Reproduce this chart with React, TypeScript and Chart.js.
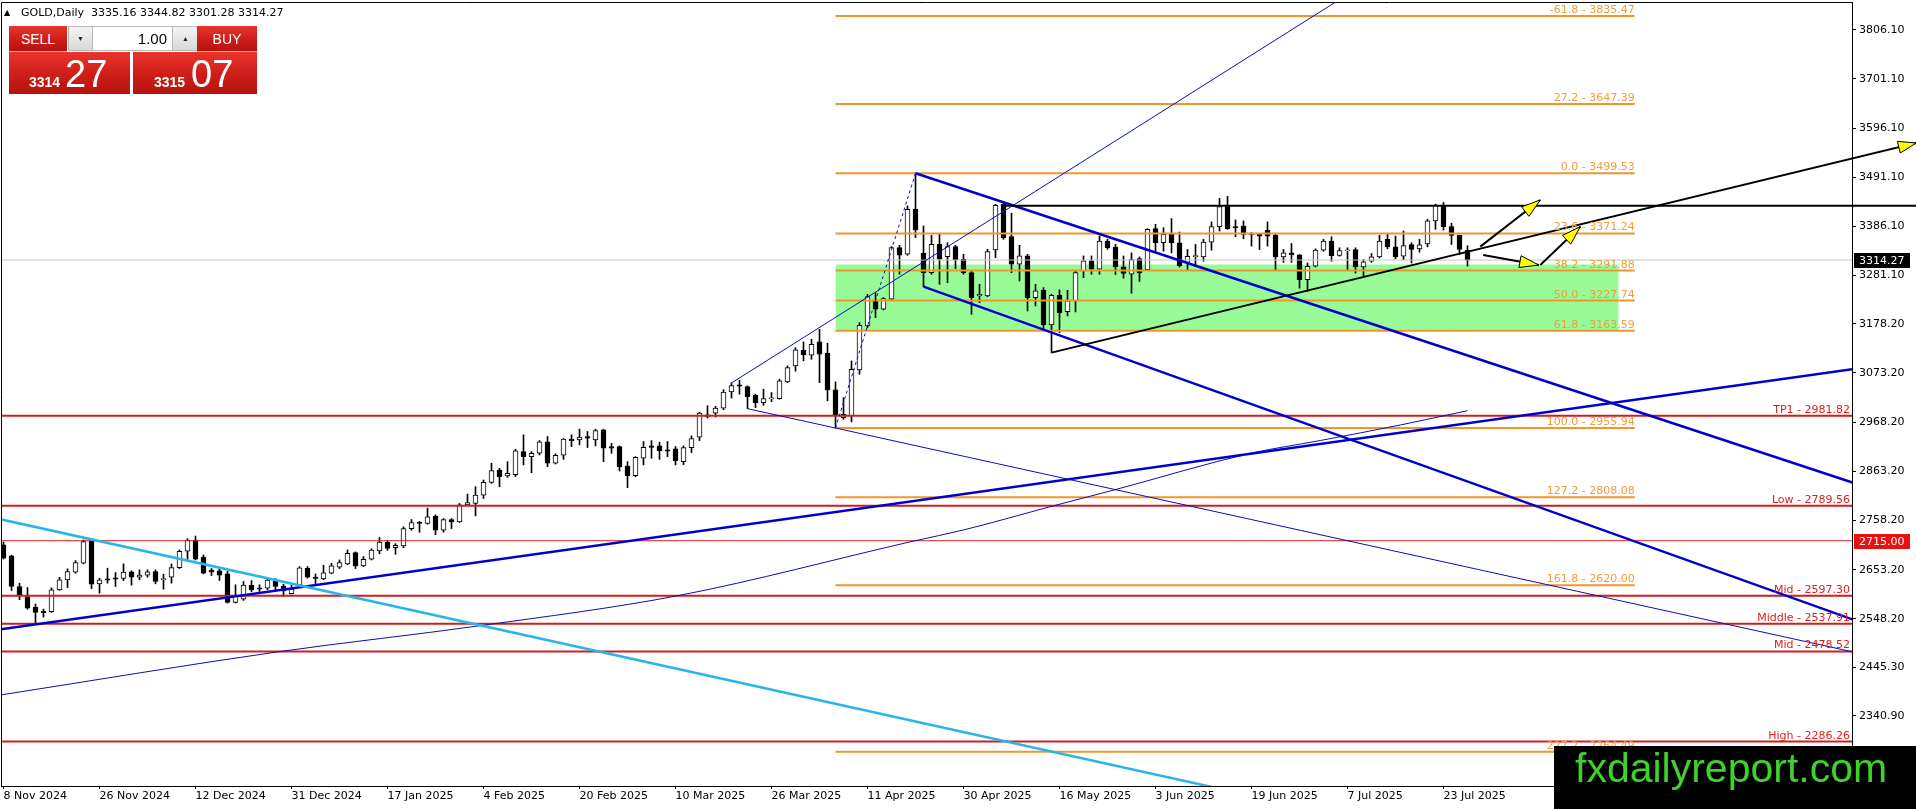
import React, { useEffect, useRef } from 'react';
import { Chart, registerables } from 'chart.js';

Chart.register(...registerables);

// ---------- data ----------
const symbolTitle = 'GOLD,Daily';
const dateLabels = ['8 Nov 2024', '26 Nov 2024', '12 Dec 2024', '31 Dec 2024', '17 Jan 2025', '4 Feb 2025', '20 Feb 2025', '10 Mar 2025', '26 Mar 2025', '11 Apr 2025', '30 Apr 2025', '16 May 2025', '3 Jun 2025', '19 Jun 2025', '7 Jul 2025', '23 Jul 2025'];
const labelStep = 12;

const opens = [
  2706, 2682.5, 2617.3, 2596, 2572.7, 2564, 2563.4, 2610, 2631.5, 2648,
  2667, 2714.4, 2623, 2633.6, 2635.8, 2634.3, 2648.5, 2637.2, 2641.4, 2649.2,
  2632, 2637.2, 2657.7, 2692.5, 2716.6, 2679.7, 2652.1, 2650.6, 2644.3, 2583.3,
  2590.4, 2620.2, 2614.5, 2613.8, 2629.4, 2618, 2601.7, 2620.9, 2656.3, 2637.2,
  2633.6, 2645.7, 2658.5, 2665.5, 2689.6, 2661.3, 2675.4, 2693, 2711.7, 2700,
  2703.8, 2741, 2754.6, 2751.7, 2767.4, 2737.4, 2760.3, 2755.3, 2791.7, 2794.6,
  2812.5, 2839.6, 2866.1, 2853.2, 2856, 2905.4, 2894.6, 2901.8, 2926.1, 2880.4,
  2897.5, 2931.8, 2930.4, 2937.5, 2930.4, 2951.8, 2916.1, 2916.1, 2874.6, 2853.9,
  2891.1, 2917.5, 2917.5, 2908.9, 2911.1, 2883.9, 2913.9, 2936.1, 2983.9, 2987.6,
  2998.3, 3032.6, 3048, 3044, 3025.7, 3010, 3018, 3018.5, 3054.1, 3088.3,
  3121.7, 3111, 3139.5, 3115.3, 3037, 2978, 2981.6, 3079.7, 3173.6, 3227,
  3209.2, 3230.6, 3340.9, 3326.6, 3422.7, 3328.8, 3287.5, 3348, 3321.6, 3343,
  3316, 3287.5, 3237.6, 3237.7, 3335.9, 3433.4, 3364.3, 3305.3, 3323.1, 3234.1,
  3249.8, 3175.8, 3239.1, 3204.2, 3227, 3291, 3312.4, 3294.6, 3355, 3342,
  3300, 3284.4, 3317.4, 3293.8, 3381.3, 3351.2, 3369.1, 3351.2, 3309.5, 3321.5,
  3321, 3352.6, 3385.6, 3428.7, 3385.6, 3387, 3370, 3369.1, 3377.7, 3366.9,
  3321, 3329.6, 3325.3, 3272.3, 3301, 3335.4, 3354.8, 3324, 3334, 3336.8,
  3299.5, 3311.7, 3321, 3358.4, 3342.6, 3322.5, 3347.6, 3338.2, 3349, 3397.8,
  3430.1, 3385.6, 3367, 3335.16,
];
const highs = [
  2712, 2684, 2624.4, 2615, 2579.8, 2569, 2614.5, 2637, 2655, 2672.6,
  2716.6, 2716.6, 2635, 2656.3, 2647, 2665.5, 2650.6, 2652.8, 2652.8, 2652.8,
  2643.6, 2665.5, 2695.3, 2719.4, 2725, 2684.7, 2655.6, 2654.9, 2650, 2620.9,
  2628, 2630, 2620.9, 2635, 2634.3, 2622.3, 2620.9, 2659.9, 2659.9, 2644,
  2662.7, 2666.9, 2674, 2695.3, 2691, 2681.1, 2698, 2722, 2716, 2708.8,
  2744.6, 2760.3, 2756, 2784.6, 2770.3, 2762.4, 2762.4, 2794.6, 2814.6, 2830.3,
  2844.6, 2880.4, 2869.6, 2883.9, 2910.4, 2941.1, 2905.4, 2928.9, 2937.5, 2900.4,
  2933.2, 2941.1, 2953.2, 2948.2, 2953.2, 2953.2, 2923.2, 2917.5, 2883.9, 2894.6,
  2926.8, 2928.9, 2925.4, 2926.8, 2916.1, 2917.5, 2938.9, 2989, 3003.3, 3001.9,
  3037.6, 3051.9, 3058, 3045.6, 3027.8, 3038.5, 3031.4, 3059.8, 3088.3, 3127.4,
  3139.5, 3145.2, 3166.5, 3136.6, 3054.1, 3020.7, 3098.9, 3180.8, 3241.3, 3244.8,
  3234.1, 3343, 3345.8, 3429.8, 3499.53, 3387.1, 3367.2, 3369.3, 3351.5, 3345.8,
  3326.6, 3291, 3262.6, 3337.3, 3433.4, 3436.9, 3414.1, 3345.8, 3326.6, 3262.6,
  3255.5, 3241.3, 3250.5, 3249.8, 3291, 3323.1, 3323.1, 3365.7, 3358.6, 3348,
  3323, 3329.6, 3321, 3381.3, 3390.6, 3383.5, 3402.8, 3374.1, 3336.8, 3347.6,
  3358.4, 3395.7, 3445.9, 3450.2, 3400, 3397.8, 3372.7, 3370, 3395.7, 3369.1,
  3336.8, 3349.7, 3326, 3308.1, 3338.2, 3358.4, 3364.1, 3340.4, 3340.4, 3340.4,
  3315.3, 3328.2, 3367, 3369.1, 3365.5, 3376.3, 3351.2, 3358.4, 3401.4, 3433.7,
  3437.3, 3392.8, 3368, 3344.82,
];
const lows = [
  2676, 2608.8, 2589, 2569, 2539.3, 2552, 2562, 2609, 2615, 2645.7,
  2665.5, 2613, 2603, 2624.4, 2617.3, 2630, 2620.2, 2631.5, 2637.2, 2623,
  2611.6, 2624.4, 2655.6, 2675.4, 2674, 2644.3, 2640.7, 2630, 2581.9, 2581.9,
  2587.6, 2606, 2606.7, 2610, 2610, 2596, 2601, 2617.3, 2635, 2620.9,
  2631.5, 2644.3, 2655.6, 2664, 2655.6, 2659.9, 2674, 2687, 2694.5, 2686,
  2700, 2737.4, 2733.1, 2750.3, 2728.1, 2733.1, 2741, 2754, 2790, 2768.2,
  2805.3, 2837.5, 2830.3, 2850.3, 2851.8, 2876.8, 2860.3, 2898.2, 2873.2, 2878.9,
  2888.9, 2916.1, 2919.7, 2914, 2917.5, 2883.9, 2901.8, 2863.9, 2828.2, 2851.8,
  2876.8, 2891.1, 2888.9, 2894.6, 2876.8, 2877.5, 2903.2, 2928.9, 2976.8, 2979,
  2994.7, 3019.7, 3028, 2997, 2999, 3004.3, 3012.1, 3017.1, 3052.7, 3076.9,
  3099, 3102.5, 3052.7, 3013.6, 2955.94, 2974.4, 2968.8, 3070.5, 3170.1, 3191.4,
  3207.8, 3229.1, 3283.9, 3324.5, 3362.2, 3257.6, 3283.9, 3262.6, 3266.1, 3296,
  3283.9, 3198.5, 3223.4, 3236.3, 3319.5, 3358.6, 3287.5, 3269.7, 3205.7, 3216.3,
  3166.5, 3116.7, 3159.4, 3195, 3203.5, 3276.8, 3284, 3284, 3337.3, 3283.5,
  3275.5, 3243.5, 3268.7, 3292.3, 3333.2, 3333.2, 3329.6, 3299.5, 3293.8, 3301,
  3311.7, 3335.4, 3376.3, 3379.9, 3364.1, 3359.8, 3344, 3336.8, 3344, 3293.8,
  3309.5, 3309.5, 3254.3, 3247.1, 3299.5, 3333.2, 3311.7, 3322.5, 3293.8, 3286.6,
  3280.9, 3309.5, 3318.9, 3338.2, 3316.7, 3315.3, 3308.1, 3331.1, 3342.6, 3379.9,
  3378.4, 3347.6, 3326, 3301.28,
];
const closes = [
  2678, 2617.3, 2599.6, 2571.2, 2562, 2561.3, 2610.2, 2631.5, 2649, 2668.4,
  2713, 2622.3, 2631.5, 2630.8, 2633, 2647.8, 2637.2, 2641.4, 2648.5, 2627.9,
  2633, 2657.7, 2692.5, 2716.6, 2675.4, 2645.7, 2647.8, 2641.4, 2583.3, 2597.5,
  2620.2, 2610.2, 2611.6, 2630.8, 2617.3, 2608.1, 2611.6, 2657, 2637.2, 2634.3,
  2646.4, 2661.3, 2668.4, 2688.2, 2661.3, 2675.4, 2695.3, 2712, 2698.8, 2705,
  2741, 2753.9, 2751.7, 2766, 2737.4, 2760.3, 2755.3, 2791.7, 2796.7, 2812.5,
  2839.6, 2864.6, 2851.8, 2858.9, 2906.8, 2894.6, 2901.8, 2926.1, 2880.4, 2897.5,
  2931.8, 2928.9, 2936.1, 2933.9, 2950.4, 2912.5, 2912.5, 2873.2, 2853.9, 2893.2,
  2914.6, 2914, 2907.5, 2906.1, 2886.1, 2913.9, 2933.2, 2987.6, 2980.4, 2998.3,
  3032.6, 3046.2, 3045, 3022.8, 3010, 3018.5, 3019.3, 3056.3, 3084.7, 3122.4,
  3112.5, 3134.5, 3113.2, 3037, 2983, 2985, 3081.2, 3175.1, 3236.3, 3209.2,
  3232, 3340.9, 3324.5, 3422.7, 3378.5, 3287.5, 3348, 3316, 3343, 3314.5,
  3287.5, 3234.1, 3241.2, 3332.3, 3431.2, 3362.2, 3305.3, 3323.1, 3234.1, 3248.4,
  3175.8, 3239.1, 3202.1, 3227, 3287.5, 3312.4, 3294.6, 3355, 3340.9, 3300,
  3286, 3315.3, 3286.6, 3379.9, 3351.2, 3369.1, 3351.2, 3302.4, 3322.1, 3323,
  3352.6, 3385.6, 3428.7, 3381.3, 3382.7, 3369.1, 3369.1, 3365.5, 3365.5, 3321,
  3329.6, 3325.3, 3272.3, 3301, 3335.4, 3354.8, 3323.9, 3334.7, 3335.4, 3299.5,
  3310.3, 3321, 3354.8, 3342.6, 3321, 3345.4, 3336.8, 3346.9, 3397.8, 3431.5,
  3385.6, 3367, 3336.8, 3314.27,
];

// price axis labels
const yTicks = [2340.9, 2445.3, 2548.2, 2653.2, 2758.2, 2863.2, 2968.2, 3073.2, 3178.2, 3281.1, 3386.1, 3491.1, 3596.1, 3701.1, 3806.1];

// fibonacci
const fibNames = ['-61.8', '27.2', '0.0', '23.6', '38.2', '50.0', '61.8', '100.0', '127.2', '161.8', '227.2'];
const fibPrices = [3835.47, 3647.39, 3499.53, 3371.24, 3291.88, 3227.74, 3163.59, 2955.94, 2808.08, 2620.0, 2264.49];
const fibSpan = [104, 203.9];

// red horizontal levels
const levelNames = ['TP1', 'Low', 'Mid', 'Middle', 'Mid', 'High'];
const levelPrices = [2981.82, 2789.56, 2597.3, 2537.91, 2478.52, 2286.26];
const markPrice = 2715.0;
const lastPrice = 3314.27;
const askPrice = 3315.07;
const lotSize = '1.00';

// green zone
const zoneSpan = [104, 201.9];
const zonePrices = [3305, 3163.59];

// moving average
const maBars = [-0.4, 34.6, 59.6, 84.3, 113.8, 120, 131.3, 138.8, 155.9, 164.6, 174.6, 183];
const maValues = [2385.6, 2478.5, 2533.6, 2597.7, 2714.4, 2738, 2789.8, 2823.3, 2901.7, 2929, 2962.1, 2992.7];

// trend lines: [bar, price] pairs
const supportLine = [[-1, 2524.4], [232, 3083.3]];
const steepLine = [[91, 3051.9], [180, 4010.4]];
const fallingThin = [[93, 2997], [232, 2474.4]];
const channelTop = [[114, 3499.53], [232, 2834.4]];
const channelBottom = [[115, 3257.6], [232, 2541.7]];
const cyanLine = [[-1, 2763.2], [160, 2155.4]];
const risingTrend = [[131, 3116.7], [239.1, 3564.3]];
const resistance = [[125, 3430.3], [239.1, 3430.3]];
const fibTrend = [[104, 2955.94], [114, 3499.53]];
const arrowUp = [[184.6, 3342.9], [192.1, 3442.6]];
const arrowDown = [[184.96, 3325.1], [191.9, 3303.8]];
const arrowRebound = [[192.1, 3303.8], [197.1, 3385.6]];

// ---------- styles ----------
const FONT = '"DejaVu Sans", Verdana, sans-serif';
const ORANGE = '#F2962A';
const ORANGE_TEXT = '#EF9E38';
const RED = '#D01E1E';
const RED_TEXT = '#E31B1B';
const BLUE = '#0000CD';
const NAVY = '#0C0CB8';
const CYAN = '#2BB5E6';
const ZONE = '#98FB98';

const pts = (p) => p.map(([x, y]) => ({ x, y }));

function lineDs(p, color, width, extra = {}) {
  return {
    type: 'line',
    data: pts(p),
    borderColor: color,
    borderWidth: width,
    pointRadius: 0,
    pointHoverRadius: 0,
    fill: false,
    tension: 0,
    order: 5,
    ...extra,
  };
}

function arrowHead(ctx, x0, y0, x1, y1, len, half) {
  const dx = x1 - x0;
  const dy = y1 - y0;
  const d = Math.hypot(dx, dy) || 1;
  const ux = dx / d;
  const uy = dy / d;
  const bx = x1 - ux * len;
  const by = y1 - uy * len;
  ctx.beginPath();
  ctx.moveTo(x1, y1);
  ctx.lineTo(bx - uy * half, by + ux * half);
  ctx.lineTo(bx + uy * half, by - ux * half);
  ctx.closePath();
  ctx.fillStyle = '#FFFF00';
  ctx.fill();
  ctx.lineWidth = 1;
  ctx.strokeStyle = '#000';
  ctx.stroke();
}

const overlayPlugin = {
  id: 'overlay',
  afterDatasetsDraw(chart) {
    const { ctx, chartArea } = chart;
    const xs = chart.scales.x;
    const ys = chart.scales.y;
    ctx.save();
    ctx.font = `11px ${FONT}`;
    ctx.textAlign = 'right';
    ctx.textBaseline = 'alphabetic';
    ctx.fillStyle = ORANGE_TEXT;
    fibNames.forEach((n, k) => {
      ctx.fillText(`${n} - ${fibPrices[k].toFixed(2)}`, xs.getPixelForValue(fibSpan[1]), ys.getPixelForValue(fibPrices[k]) - 3);
    });
    ctx.fillStyle = RED_TEXT;
    levelNames.forEach((n, k) => {
      ctx.fillText(`${n} - ${levelPrices[k].toFixed(2)}`, chartArea.right - 2, ys.getPixelForValue(levelPrices[k]) - 3);
    });
    const heads = [
      [risingTrend, 18, 6],
      [arrowUp, 19, 6],
      [arrowDown, 19, 6],
      [arrowRebound, 19, 6],
    ];
    heads.forEach(([seg, len, half]) => {
      const a = seg[0];
      const b = seg[1];
      arrowHead(ctx, xs.getPixelForValue(a[0]), ys.getPixelForValue(a[1]), xs.getPixelForValue(b[0]), ys.getPixelForValue(b[1]), len, half);
    });
    ctx.restore();
  },
  afterDraw(chart) {
    const { ctx, chartArea } = chart;
    const ys = chart.scales.y;
    ctx.save();
    ctx.strokeStyle = '#000';
    ctx.lineWidth = 1;
    ctx.beginPath();
    ctx.moveTo(chartArea.left + 0.5, chartArea.bottom);
    ctx.lineTo(chartArea.left + 0.5, chartArea.top + 0.5);
    ctx.lineTo(chartArea.right, chartArea.top + 0.5);
    ctx.stroke();
    const box = (price, bg) => {
      const py = Math.round(ys.getPixelForValue(price));
      ctx.fillStyle = bg;
      ctx.fillRect(chartArea.right + 2, py - 7, 56, 15);
      ctx.fillStyle = '#FFFFFF';
      ctx.font = `11px ${FONT}`;
      ctx.textAlign = 'left';
      ctx.textBaseline = 'middle';
      ctx.fillText(price.toFixed(2), chartArea.right + 7, py + 1);
    };
    box(lastPrice, '#000000');
    box(markPrice, '#E81010');
    ctx.restore();
  },
};

export default function App() {
  const ref = useRef(null);

  useEffect(() => {
    document.body.style.margin = '0';
    document.body.style.overflow = 'hidden';
    const canvas = ref.current;
    if (!canvas) return;
    const idx = opens.map((_, i) => i);
    const bodyColors = idx.map((i) => (closes[i] >= opens[i] ? '#FFFFFF' : '#000000'));

    const datasets = [
      {
        type: 'line',
        data: pts([[zoneSpan[0], zonePrices[0]], [zoneSpan[1], zonePrices[0]]]),
        fill: { value: zonePrices[1] },
        backgroundColor: ZONE,
        borderWidth: 0,
        pointRadius: 0,
        order: 100,
      },
      {
        type: 'bar',
        data: idx.map((i) => ({ x: i, y: [lows[i], highs[i]] })),
        backgroundColor: '#000000',
        borderWidth: 0,
        barThickness: 1,
        grouped: false,
        order: 41,
      },
      {
        type: 'bar',
        data: idx.map((i) => ({ x: i, y: [opens[i], closes[i]] })),
        backgroundColor: bodyColors,
        borderColor: '#000000',
        borderWidth: 1,
        borderSkipped: false,
        barThickness: 5,
        grouped: false,
        minBarLength: 1,
        order: 40,
      },
      lineDs([[-1, lastPrice], [232, lastPrice]], '#C4C4C4', 1, { order: 30 }),
      ...fibPrices.map((p) => lineDs([[fibSpan[0], p], [fibSpan[1], p]], ORANGE, 2, { order: 20 })),
      ...levelPrices.map((p) => lineDs([[-1, p], [232, p]], RED, 2, { order: 15 })),
      lineDs([[-1, markPrice], [232, markPrice]], RED, 1, { order: 15 }),
      {
        type: 'line',
        data: maBars.map((b, k) => ({ x: b, y: maValues[k] })),
        borderColor: NAVY,
        borderWidth: 1,
        pointRadius: 0,
        fill: false,
        cubicInterpolationMode: 'monotone',
        order: 8,
      },
      lineDs(steepLine, NAVY, 1),
      lineDs(fallingThin, NAVY, 1),
      lineDs(fibTrend, NAVY, 1, { borderDash: [3, 3] }),
      lineDs(cyanLine, CYAN, 2.5),
      lineDs(supportLine, BLUE, 2.5),
      lineDs(channelTop, BLUE, 2.5),
      lineDs(channelBottom, BLUE, 2.5),
      lineDs(resistance, '#000000', 2, { clip: false, order: 3 }),
      lineDs(risingTrend, '#000000', 2, { clip: false, order: 3 }),
      lineDs(arrowUp, '#000000', 2, { order: 3 }),
      lineDs(arrowDown, '#000000', 2, { order: 3 }),
      lineDs(arrowRebound, '#000000', 2, { order: 3 }),
    ];

    const chart = new Chart(canvas, {
      type: 'bar',
      data: { datasets },
      options: {
        responsive: false,
        devicePixelRatio: 1,
        animation: false,
        events: [],
        layout: { padding: { left: 1, top: 2, right: 0, bottom: 0 } },
        plugins: { legend: { display: false }, tooltip: { enabled: false } },
        scales: {
          x: {
            type: 'linear',
            min: -0.3125,
            max: 231.0625,
            offset: false,
            afterBuildTicks: (s) => {
              s.ticks = dateLabels.map((_, k) => ({ value: k * labelStep }));
            },
            afterFit: (s) => {
              s.height = 23;
              s.paddingLeft = 0;
              s.paddingRight = 0;
            },
            ticks: {
              autoSkip: false,
              maxRotation: 0,
              minRotation: 0,
              align: 'start',
              padding: 1,
              labelOffset: 0,
              color: '#000',
              font: { family: FONT, size: 11 },
              callback: (v) => dateLabels[Math.round(Number(v) / labelStep)] || '',
            },
            grid: { drawOnChartArea: false, drawTicks: true, tickLength: 3, color: '#000', offset: false },
            border: { display: true, color: '#000', width: 1 },
          },
          y: {
            type: 'linear',
            position: 'right',
            min: 2191.3,
            max: 3865.3,
            afterBuildTicks: (s) => {
              s.ticks = yTicks.map((v) => ({ value: v }));
            },
            afterFit: (s) => {
              s.width = 64;
              s.paddingTop = 0;
              s.paddingBottom = 0;
            },
            ticks: {
              padding: 3,
              color: '#000',
              font: { family: FONT, size: 11 },
              callback: (v) => Number(v).toFixed(2),
            },
            grid: { drawOnChartArea: false, drawTicks: true, tickLength: 4, color: '#000' },
            border: { display: true, color: '#000', width: 1 },
          },
        },
      },
      plugins: [overlayPlugin],
    });
    return () => chart.destroy();
  }, []);

  const last = opens.length - 1;
  const redGrad = 'linear-gradient(#EA342C, #CC1E1A 55%, #B5130F)';
  const bidInt = Math.floor(lastPrice);
  const bidFrac = String(Math.round((lastPrice - bidInt) * 100)).padStart(2, '0');
  const askInt = Math.floor(askPrice);
  const askFrac = String(Math.round((askPrice - askInt) * 100)).padStart(2, '0');

  return (
    <div style={{ position: 'relative', width: 1916, height: 809, background: '#fff', overflow: 'hidden' }}>
      <canvas ref={ref} width={1916} height={809} style={{ position: 'absolute', left: 0, top: 0 }} />
      <div style={{ position: 'absolute', left: 4, top: 6, font: `11px ${FONT}`, lineHeight: '14px', color: '#000', whiteSpace: 'pre' }}>
        <span style={{ display: 'inline-block', width: 17, fontSize: 8, verticalAlign: 1 }}>▲</span>
        {`${symbolTitle}  ${opens[last].toFixed(2)} ${highs[last].toFixed(2)} ${lows[last].toFixed(2)} ${closes[last].toFixed(2)}`}
      </div>
      {/* trade panel */}
      <div style={{ position: 'absolute', left: 9, top: 26, width: 58, height: 25, background: redGrad, color: '#fff', font: '14px "Liberation Sans", Arial, sans-serif', display: 'flex', alignItems: 'center', justifyContent: 'center', borderBottom: '1px solid #F4A09A' }}>SELL</div>
      <div style={{ position: 'absolute', left: 68, top: 26, width: 128, height: 23, background: '#fff', border: '1px solid #B8B8B8' }}>
        <div style={{ position: 'absolute', left: 0, top: 0, width: 23, height: 23, background: 'linear-gradient(#F4F4F4, #D8D8D8)', borderRight: '1px solid #B8B8B8', fontSize: 7, display: 'flex', alignItems: 'center', justifyContent: 'center', color: '#222' }}>▼</div>
        <div style={{ position: 'absolute', left: 24, top: 0, width: 74, height: 23, font: '15px "Liberation Sans", Arial, sans-serif', lineHeight: '23px', textAlign: 'right', color: '#000' }}>{lotSize}</div>
        <div style={{ position: 'absolute', left: 103, top: 0, width: 25, height: 23, background: 'linear-gradient(#F4F4F4, #D8D8D8)', borderLeft: '1px solid #B8B8B8', fontSize: 7, display: 'flex', alignItems: 'center', justifyContent: 'center', color: '#222' }}>▲</div>
      </div>
      <div style={{ position: 'absolute', left: 197, top: 26, width: 60, height: 25, background: redGrad, color: '#fff', font: '14px "Liberation Sans", Arial, sans-serif', display: 'flex', alignItems: 'center', justifyContent: 'center', borderBottom: '1px solid #F4A09A' }}>BUY</div>
      <div style={{ position: 'absolute', left: 9, top: 52, width: 121, height: 42, background: redGrad, color: '#fff' }}>
        <span style={{ position: 'absolute', left: 20, top: 23, font: 'bold 14px "Liberation Sans", Arial, sans-serif', lineHeight: '14px' }}>{bidInt}</span>
        <span style={{ position: 'absolute', left: 56, top: 3, font: '38px "Liberation Sans", Arial, sans-serif', lineHeight: '38px' }}>{bidFrac}</span>
      </div>
      <div style={{ position: 'absolute', left: 133, top: 52, width: 124, height: 42, background: redGrad, color: '#fff' }}>
        <span style={{ position: 'absolute', left: 21, top: 23, font: 'bold 14px "Liberation Sans", Arial, sans-serif', lineHeight: '14px' }}>{askInt}</span>
        <span style={{ position: 'absolute', left: 58, top: 3, font: '38px "Liberation Sans", Arial, sans-serif', lineHeight: '38px' }}>{askFrac}</span>
      </div>
      {/* watermark */}
      <div style={{ position: 'absolute', left: 1554, top: 746, width: 362, height: 63, background: '#000' }}>
        <span style={{ position: 'absolute', left: 21, top: 1, font: '41px "Liberation Sans", Arial, sans-serif', lineHeight: '42px', color: '#3ED22A', whiteSpace: 'nowrap' }}>fxdailyreport.com</span>
      </div>
    </div>
  );
}
